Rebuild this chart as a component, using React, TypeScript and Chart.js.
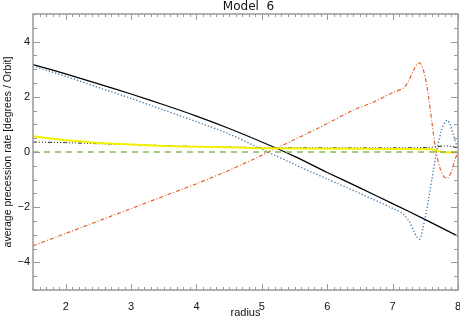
import React, { useEffect, useRef } from "react";
import { Chart, registerables } from "chart.js";

Chart.register(...registerables);

const TITLE = "Model  6";
const X_TITLE = "radius";
const Y_TITLE = "average precession rate [degrees / Orbit]";
const X_TICKS = [2, 3, 4, 5, 6, 7, 8];
const Y_TICKS = [-4, -2, 0, 2, 4];

const blackX = [1.5, 2, 2.5, 3, 3.5, 4, 4.5, 5, 5.5, 6, 6.5, 7, 7.5, 8];
const blackY = [3.17, 2.83, 2.47, 2.1, 1.71, 1.3, 0.85, 0.36, -0.16, -0.74, -1.3, -1.87, -2.45, -3.05];

const blueX = [1.5, 2, 2.5, 3, 3.5, 4, 4.5, 5, 5.5, 6, 6.5, 7, 7.15, 7.25, 7.32, 7.38, 7.42, 7.46, 7.52, 7.6, 7.68, 7.75, 7.8, 7.84, 7.88, 7.93, 8];
const blueY = [3.12, 2.74, 2.34, 1.94, 1.52, 1.1, 0.65, 0.1, -0.45, -0.98, -1.5, -2.04, -2.22, -2.5, -2.85, -3.1, -3.15, -2.8, -2.1, -1.0, 0.1, 0.8, 1.08, 1.15, 1.0, 0.6, 0.1];

const orangeX = [1.5, 2, 2.5, 3, 3.5, 4, 4.5, 5, 5.5, 6, 6.4, 6.7, 7, 7.17, 7.25, 7.32, 7.38, 7.42, 7.47, 7.53, 7.6, 7.66, 7.72, 7.78, 7.84, 7.9, 7.95, 8];
const orangeY = [-3.4, -2.95, -2.5, -2.05, -1.6, -1.15, -0.66, -0.12, 0.45, 1.03, 1.52, 1.8, 2.15, 2.33, 2.6, 2.95, 3.2, 3.22, 2.98, 2.3, 1.1, 0.08, -0.55, -0.88, -0.95, -0.7, -0.3, 0.0];

const yellowX = [1.5, 1.8, 2, 2.3, 2.5, 3, 3.5, 4, 4.5, 5, 6, 7, 7.6, 7.68, 7.75, 8];
const yellowY = [0.57, 0.48, 0.43, 0.37, 0.33, 0.27, 0.22, 0.19, 0.17, 0.14, 0.12, 0.11, 0.1, 0.05, 0.0, -0.02];

const dashDotX = [1.5, 2, 2.5, 3, 3.5, 4, 4.5, 5, 6, 7, 7.5, 7.8, 7.9, 8];
const dashDotY = [0.36, 0.34, 0.3, 0.27, 0.23, 0.2, 0.18, 0.16, 0.15, 0.15, 0.16, 0.22, 0.2, 0.15];

const greenX = [1.5, 8];
const greenY = [0, 0];

const pts = (xs: number[], ys: number[]) => xs.map((x, i) => ({ x, y: ys[i] }));

const FONT = "'Liberation Sans', Arial, sans-serif";
const TITLE_FONT = "12px 'DejaVu Sans', sans-serif";

const frameTicks = {
  id: "frameTicks",
  afterDatasetsDraw(chart: any) {
    const { ctx, chartArea: a, scales } = chart;
    const xs = scales.x;
    const ys = scales.y;
    ctx.save();
    ctx.strokeStyle = "#999";
    ctx.lineWidth = 1;
    ctx.beginPath();
    for (let i = 15; i <= 80; i++) {
      const v = i / 10;
      const px = Math.round(xs.getPixelForValue(v)) + 0.5;
      const len = i % 10 === 0 ? 6 : 3;
      ctx.moveTo(px, a.bottom);
      ctx.lineTo(px, a.bottom - len);
      ctx.moveTo(px, a.top);
      ctx.lineTo(px, a.top + len);
    }
    for (let i = -10; i <= 10; i++) {
      const v = i / 2;
      const py = Math.round(ys.getPixelForValue(v)) + 0.5;
      const len = i % 4 === 0 ? 7 : 4;
      ctx.moveTo(a.left, py);
      ctx.lineTo(a.left + len, py);
      ctx.moveTo(a.right, py);
      ctx.lineTo(a.right - len, py);
    }
    ctx.stroke();
    ctx.lineWidth = 1.5;
    ctx.strokeRect(a.left, a.top, a.right - a.left, a.bottom - a.top);
    ctx.fillStyle = "#111";
    ctx.font = TITLE_FONT;
    ctx.textAlign = "center";
    ctx.textBaseline = "alphabetic";
    ctx.fillText(TITLE, (a.left + a.right) / 2 + 3, 10);
    ctx.restore();
  },
};

export default function App() {
  const ref = useRef<HTMLCanvasElement>(null);
  useEffect(() => {
    document.body.style.margin = "0";
    const canvas = ref.current!;
    const line = (data: any, color: string, width: number, dash: number[]) => ({
      data,
      borderColor: color,
      backgroundColor: color,
      borderWidth: width,
      borderDash: dash,
      pointRadius: 0,
      tension: 0.3,
      fill: false,
    });
    const chart = new Chart(canvas, {
      type: "line",
      data: {
        datasets: [
          line(pts(greenX, greenY), "#86b95a", 1.5, [6, 5]),
          line(pts(yellowX, yellowY), "#f2f200", 2, []),
          line(pts(dashDotX, dashDotY), "#222", 1, [4, 2, 1, 2, 1, 2, 1, 2]),
          line(pts(orangeX, orangeY), "#e4622c", 1.2, [4, 2, 1, 2]),
          line(pts(blueX, blueY), "#3f78a8", 1.3, [1.3, 2]),
          line(pts(blackX, blackY), "#000", 1.2, []),
        ],
      },
      options: {
        animation: false,
        responsive: false,
        layout: { padding: { left: 0, right: 2, top: 14, bottom: 0 } },
        plugins: {
          legend: { display: false },
          tooltip: { enabled: false },
          title: { display: false },
        },
        scales: {
          x: {
            type: "linear",
            min: 1.5,
            max: 8,
            afterBuildTicks: (s: any) => {
              s.ticks = X_TICKS.map((v) => ({ value: v }));
            },
            afterFit: (s: any) => {
              s.height = 28;
              s.paddingLeft = 0;
              s.paddingRight = 0;
            },
            grid: { display: false, drawTicks: false },
            border: { display: false },
            ticks: {
              color: "#111",
              font: { family: FONT, size: 11 },
              padding: 10,
              maxRotation: 0,
              autoSkip: false,
            },
            title: {
              display: true,
              text: X_TITLE,
              color: "#111",
              font: { family: FONT, size: 11 },
              padding: { top: 0, bottom: -2 },
            },
          },
          y: {
            type: "linear",
            min: -5,
            max: 5,
            afterBuildTicks: (s: any) => {
              s.ticks = Y_TICKS.map((v) => ({ value: v }));
            },
            afterFit: (s: any) => {
              s.width = 33;
              s.paddingTop = 0;
              s.paddingBottom = 0;
            },
            grid: { display: false, drawTicks: false },
            border: { display: false },
            ticks: {
              color: "#111",
              font: { family: FONT, size: 11 },
              padding: 3,
              autoSkip: false,
              callback: (v: any) => (v < 0 ? "\u2212" + Math.abs(v) : String(v)),
            },
            title: {
              display: true,
              text: Y_TITLE,
              color: "#111",
              font: { family: FONT, size: 10.5 },
              padding: { top: 2, bottom: 0 },
            },
          },
        },
      },
      plugins: [frameTicks],
    } as any);
    return () => chart.destroy();
  }, []);
  return <canvas ref={ref} width={460} height={318} style={{ display: "block" }} />;
}
